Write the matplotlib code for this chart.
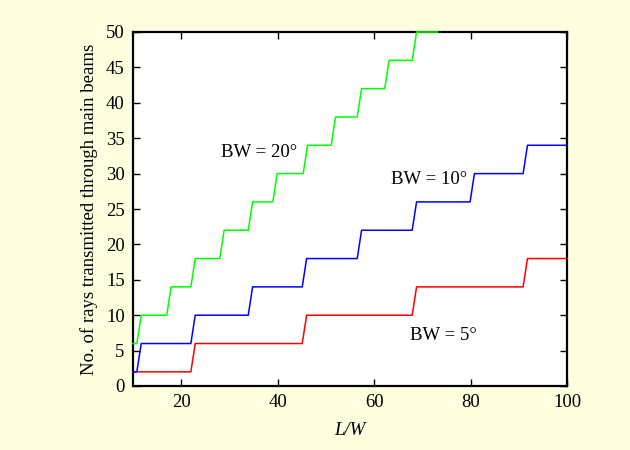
import matplotlib
matplotlib.use("Agg")
import matplotlib.pyplot as plt

# Step positions (L/W where the count jumps) and count levels
red_steps = [22.0, 45.1, 67.9, 90.9]
red_levels = [2, 6, 10, 14, 18]
blue_steps = [10.8, 22.0, 33.9, 45.1, 56.5, 67.9, 79.9, 90.9]
blue_levels = [2, 6, 10, 14, 18, 22, 26, 30, 34]
green_steps = [10.8, 17.0, 22.0, 28.0, 33.9, 39.0, 45.3, 51.1, 56.5, 62.2, 67.9]
green_levels = [6, 10, 14, 18, 22, 26, 30, 34, 38, 42, 46, 50]
green_end = 73.2

x_min, x_max = 10, 100
riser = 0.9

x_ticks = [20, 40, 60, 80, 100]
y_ticks = [0, 5, 10, 15, 20, 25, 30, 35, 40, 45, 50]


def stair(steps, levels, x_end):
    xs = [x_min]
    ys = [levels[0]]
    for i, s in enumerate(steps):
        xs += [s, s + riser]
        ys += [levels[i], levels[i + 1]]
    xs.append(x_end)
    ys.append(levels[-1])
    return xs, ys


plt.rcParams['font.family'] = ['Liberation Serif', 'DejaVu Serif']
bg = '#FFFFE0'
fs = 13.5
fig = plt.figure(figsize=(6.3, 4.5), dpi=100, facecolor=bg)
ax = fig.add_axes([133 / 630, 1 - 386 / 450, (567 - 133) / 630, (386 - 32) / 450])
ax.set_facecolor('white')

for steps, levels, c, xe in [(red_steps, red_levels, '#FF0000', x_max),
                             (blue_steps, blue_levels, '#0000FF', x_max),
                             (green_steps, green_levels, '#00FF00', green_end)]:
    xs, ys = stair(steps, levels, xe)
    ax.plot(xs, ys, color=c, lw=1.1, clip_on=False, zorder=5)

ax.set_xlim(x_min, x_max)
ax.set_ylim(0, 50)
ax.set_xticks(x_ticks)
ax.set_yticks(y_ticks)
ax.tick_params(direction='in', length=5, width=1, labelsize=fs, pad=6,
               top=True, right=True)
for sp in ax.spines.values():
    sp.set_linewidth(1.6)

ax.set_xlabel('L/W', fontsize=fs, fontstyle='italic', labelpad=8)
ax.set_ylabel('No. of rays transmitted through main beams', fontsize=fs, labelpad=6)

ax.text(36.1, 33.0, 'BW = 20°', fontsize=fs, ha='center', va='center')
ax.text(71.3, 29.1, 'BW = 10°', fontsize=fs, ha='center', va='center')
ax.text(74.3, 7.2, 'BW = 5°', fontsize=fs, ha='center', va='center')

fig.savefig('out.png', dpi=100, facecolor=bg)
